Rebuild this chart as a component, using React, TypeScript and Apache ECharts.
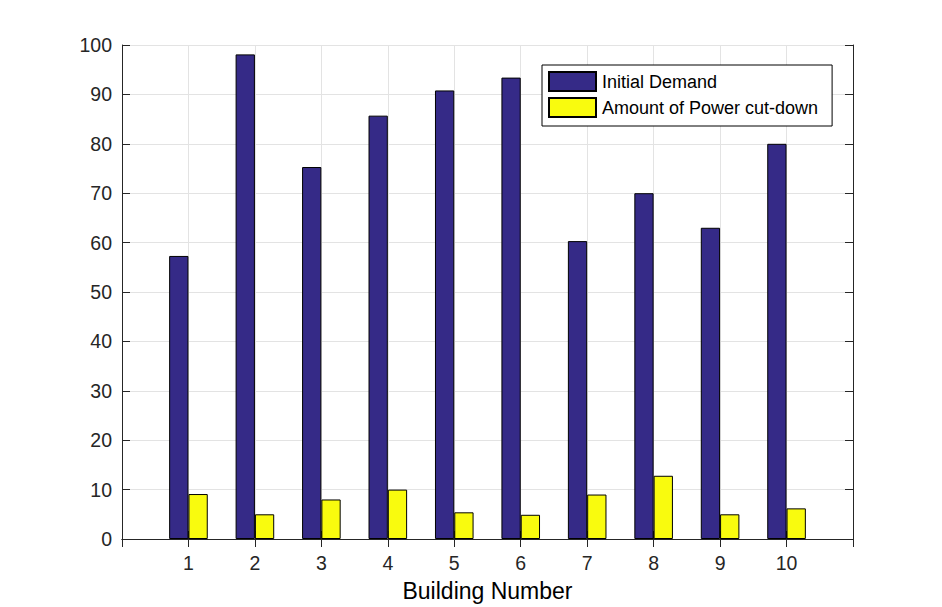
import React, { useEffect, useRef } from "react";
import * as echarts from "echarts";

const categories = ["1", "2", "3", "4", "5", "6", "7", "8", "9", "10"];
const initialDemand = [57.3, 98.1, 75.3, 85.7, 90.8, 93.4, 60.3, 70.0, 63.0, 80.0];
const powerCutDown = [9.1, 5.0, 8.0, 10.0, 5.4, 4.9, 9.0, 12.8, 5.0, 6.2];
const yTicks = { min: 0, max: 100, interval: 10 };

const AXIS_COLOR = "#262626";
const GRID_COLOR = "#e3e3e3";
const FONT = "'Liberation Sans', Arial, Helvetica, sans-serif";

export default function App() {
  const ref = useRef<HTMLDivElement>(null);
  useEffect(() => {
    if (!ref.current) return;
    const chart = echarts.init(ref.current, undefined, { renderer: "svg" });
    const axisData = ["", ...categories, ""];
    const pad = (arr: number[]) => [null, ...arr, null];
    const option: any = {
      animation: false,
      backgroundColor: "#ffffff",
      textStyle: { fontFamily: FONT },
      grid: { left: 122, right: 89, top: 45, bottom: 68, containLabel: false },
      legend: {
        orient: "vertical",
        left: 542,
        top: 65,
        itemWidth: 47,
        itemHeight: 19,
        itemGap: 5,
        padding: [6, 14, 8, 6],
        backgroundColor: "#ffffff",
        borderColor: "#000000",
        borderWidth: 1,
        borderRadius: 0,
        textStyle: { fontSize: 18, color: "#000000", fontFamily: FONT, padding: [0, 0, 0, 1] },
        data: [
          { name: "Initial Demand", icon: "rect" },
          { name: "Amount of Power cut-down", icon: "rect" },
        ],
      },
      xAxis: [
        {
          type: "category",
          data: axisData,
          boundaryGap: false,
          position: "bottom",
          axisLine: { show: true, lineStyle: { color: AXIS_COLOR, width: 1 } },
          axisTick: { show: true, inside: true, length: 8, lineStyle: { color: AXIS_COLOR } },
          axisLabel: { fontSize: 19.5, color: AXIS_COLOR, margin: 14, fontFamily: FONT, interval: 0 },
          splitLine: { show: true, lineStyle: { color: GRID_COLOR, width: 1 } },
          name: "Building Number",
          nameLocation: "middle",
          nameGap: 40,
          nameTextStyle: { fontSize: 23, color: "#000000", fontFamily: FONT },
        },
        {
          type: "category",
          data: axisData,
          boundaryGap: false,
          position: "top",
          axisLine: { show: true, lineStyle: { color: AXIS_COLOR, width: 1 } },
          axisTick: { show: true, inside: true, length: 8, lineStyle: { color: AXIS_COLOR } },
          axisLabel: { show: false },
          splitLine: { show: false },
        },
      ],
      yAxis: [
        {
          type: "value",
          min: yTicks.min,
          max: yTicks.max,
          interval: yTicks.interval,
          position: "left",
          axisLine: { show: true, lineStyle: { color: AXIS_COLOR, width: 1 } },
          axisTick: { show: true, inside: true, length: 8, lineStyle: { color: AXIS_COLOR } },
          axisLabel: { fontSize: 19.5, color: AXIS_COLOR, margin: 10, fontFamily: FONT },
          splitLine: { show: true, lineStyle: { color: GRID_COLOR, width: 1 } },
        },
        {
          type: "value",
          min: yTicks.min,
          max: yTicks.max,
          interval: yTicks.interval,
          position: "right",
          axisLine: { show: true, lineStyle: { color: AXIS_COLOR, width: 1 } },
          axisTick: { show: true, inside: true, length: 8, lineStyle: { color: AXIS_COLOR } },
          axisLabel: { show: false },
          splitLine: { show: false },
        },
      ],
      series: [
        {
          name: "Initial Demand",
          type: "bar",
          xAxisIndex: 0,
          yAxisIndex: 0,
          data: pad(initialDemand),
          barWidth: 19.3,
          barGap: "0%",
          itemStyle: { color: "#352a87", borderColor: "#000000", borderWidth: 1 },
        },
        {
          name: "Amount of Power cut-down",
          type: "bar",
          xAxisIndex: 0,
          yAxisIndex: 0,
          data: pad(powerCutDown),
          barWidth: 19.3,
          barGap: "0%",
          itemStyle: { color: "#f9fb0e", borderColor: "#000000", borderWidth: 1 },
        },
      ],
    };
    chart.setOption(option);
    return () => chart.dispose();
  }, []);
  return <div ref={ref} style={{ width: 942, height: 607, position: "fixed", left: 0, top: 0 }} />;
}
